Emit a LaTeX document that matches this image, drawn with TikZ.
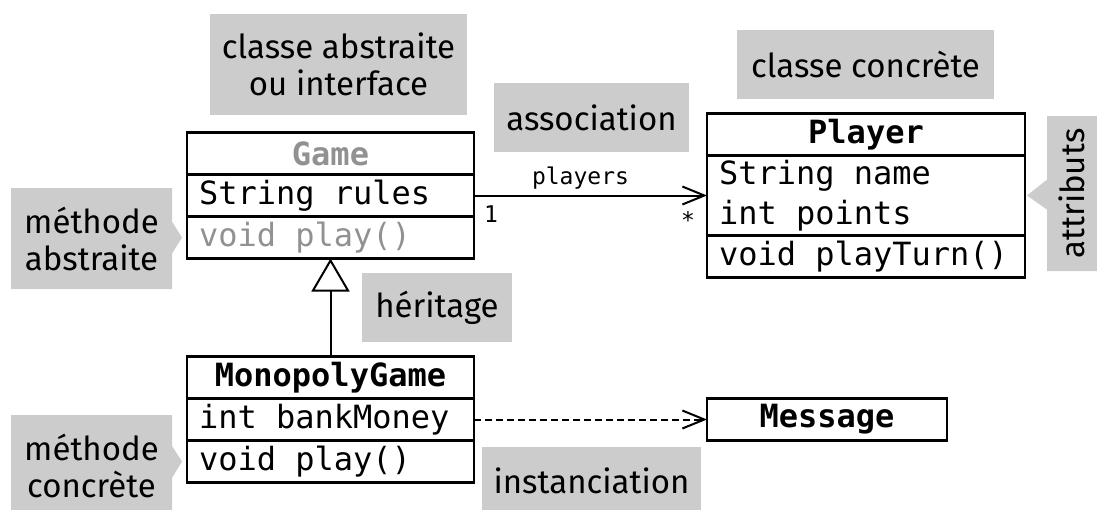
\documentclass[tikz,border=0pt]{standalone}
\usepackage{fontspec}
\usepackage{graphicx}
\setmainfont{Fira Sans}
\newfontfamily\umlmono{DejaVu Sans Mono}
\newcommand\umlsp{\hspace{0.602em}}
\usetikzlibrary{positioning,arrows.meta,shapes.callouts}
\definecolor{notegray}{RGB}{204,204,204}
\definecolor{abstractgray}{RGB}{145,145,145}
\tikzset{
    note/.style={fill=notegray, inner sep=0pt, align=center, font=\fontsize{33}{37}\selectfont},
    pointnote/.style={note, rectangle callout, callout pointer width=32pt},
    umlbox/.style={draw, line width=2.5pt, outer sep=0pt, inner xsep=12pt, inner ysep=3pt,
        text width=#1, minimum height=42pt, font=\umlmono\fontsize{32}{40}\selectfont},
    umlname/.style={umlbox=#1, align=center, font=\umlmono\bfseries\fontsize{32}{40}\selectfont},
    umlrow/.style={umlbox=#1, align=left},
    umllabel/.style={inner sep=5pt, font=\umlmono\fontsize{23}{28}\selectfont},
    assoc/.style={line width=2pt, -{Straight Barb[length=22pt, width=18pt]}},
    depend/.style={assoc, dash pattern=on 7pt off 4pt},
    inherit/.style={line width=2pt, -{Triangle[length=33pt, width=38pt, fill=white]}}
}
\begin{document}
\begin{tikzpicture}[x=1pt, y=1pt]
    \useasboundingbox (0,0) rectangle (1097,-509);
    \node[umlname=263pt, text=abstractgray]           (game)      at (330.5,-153.5) {Game};
    \node[umlrow=263pt, below=0pt of game]            (game-attr) {String\umlsp rules};
    \node[umlrow=263pt, below=0pt of game-attr, text=abstractgray] (game-meth) {void\umlsp play()};
    \node[umlname=294pt]                              (player)      at (866,-134.5) {Player};
    \node[umlrow=294pt, below=0pt of player, minimum height=80pt] (player-attr) {String\umlsp name\\int\umlsp points};
    \node[umlrow=294pt, below=0pt of player-attr]     (player-meth) {void\umlsp playTurn()};
    \node[umlname=263pt]                              (mono)      at (330.5,-377.5) {MonopolyGame};
    \node[umlrow=263pt, below=0pt of mono]            (mono-attr) {int\umlsp bankMoney};
    \node[umlrow=263pt, below=0pt of mono-attr]       (mono-meth) {void\umlsp play()};
    \node[umlname=216pt]                              (message)   at (827,-419.5) {Message};
    \draw [assoc] (game-attr.east) -- (game-attr.east -| player-attr.west)
        node[umllabel, midway, above, xshift=-10pt] (assoc-name) {players}
        node[umllabel, pos=0, below right, xshift=4pt, yshift=-4pt] (assoc-one) {1}
        node[umllabel, pos=1, below left, xshift=-6pt, yshift=-10pt] (assoc-many) {*};
    \draw [depend] (mono-attr.east) -- (message.west);
    \draw [inherit] (mono.north) -- (game-meth.south);
    \node[note, minimum width=257pt, minimum height=101pt] (abstr-note)  at (338.5,-64.5) {classe abstraite\\ou interface};
    \node[note, minimum width=195pt, minimum height=69pt]  (assoc-note)  at (591.5,-117.5) {association};
    \node[note, minimum width=257pt, minimum height=69pt]  (concr-note)  at (865.5,-64.5) {classe concrète};
    \node[note, minimum width=150pt, minimum height=69pt]  (herit-note)  at (437,-307.5) {héritage};
    \node[note, minimum width=219pt, minimum height=69pt]  (inst-note)   at (591.5,-481) {instanciation};
    \node[pointnote, minimum width=50pt, minimum height=155pt, callout pointer width=30pt,
        callout absolute pointer={([xshift=2pt]player-attr.east)}] (attr-note) at (1072,-193.5) {\rotatebox{90}{attributs}};
    \node[pointnote, minimum width=161pt, minimum height=101pt,
        callout absolute pointer={([xshift=-5pt]game-meth.west)}] (methabs-note) at (91.5,-238.5) {méthode\\abstraite};
    \node[pointnote, minimum width=161pt, minimum height=101pt,
        callout absolute pointer={([xshift=-5pt]mono-meth.west)}] (methconc-note) at (91.5,-465.5) {méthode\\concrète};
\end{tikzpicture}
\end{document}
